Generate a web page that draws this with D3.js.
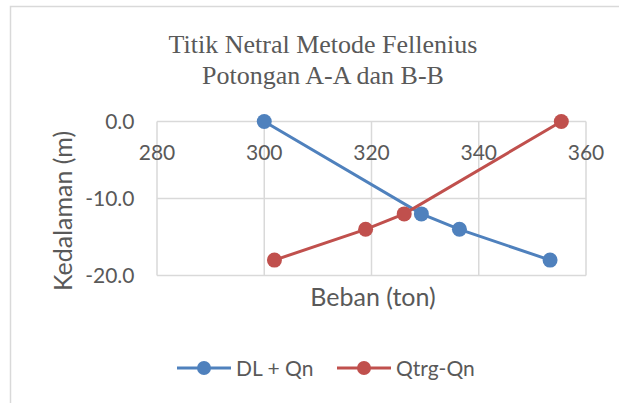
<!DOCTYPE html>
<html lang="en">
<head>
<meta charset="utf-8">
<title>Titik Netral Metode Fellenius</title>
<script src="https://d3js.org/d3.v7.min.js"></script>
<style>
  body { margin: 0; background: #fff; }
  text { fill: #595959; }
</style>
</head>
<body>
<div id="chart"></div>
<script>
// data
const xTicks = [280, 300, 320, 340, 360];
const yTicks = [0, -10, -20];

const dlQnBeban = [300, 329.3, 336.4, 353.3];
const dlQnDepth = [0, -12, -14, -18];

const qtrgBeban = [301.9, 318.9, 326.1, 355.4];
const qtrgDepth = [-18, -14, -12, 0];

const seriesNames = ["DL + Qn", "Qtrg-Qn"];
const seriesColors = ["#4f81bd", "#c0504d"];

const W = 619, H = 403;
const plot = {left: 157, right: 586, top: 121.5, bottom: 275.5};

const svg = d3.select("#chart")
  .append("svg")
    .attr("width", W)
    .attr("height", H);

// chart border (only top and left fall inside the frame)
svg.append("rect")
  .attr("x", 10.5).attr("y", 6.5)
  .attr("width", 640).attr("height", 420)
  .attr("fill", "none")
  .attr("stroke", "#d9d9d9")
  .attr("stroke-width", 1.5);

const x = d3.scaleLinear().domain([280, 360]).range([plot.left, plot.right]);
const y = d3.scaleLinear().domain([0, -20]).range([plot.top, plot.bottom]);

// gridlines
svg.append("g")
  .selectAll("line")
  .data(xTicks)
  .join("line")
    .attr("x1", d => x(d)).attr("x2", d => x(d))
    .attr("y1", plot.top).attr("y2", plot.bottom)
    .attr("stroke", "#d9d9d9").attr("stroke-width", 1.5);

svg.append("g")
  .selectAll("line")
  .data(yTicks)
  .join("line")
    .attr("x1", plot.left).attr("x2", plot.right)
    .attr("y1", d => y(d)).attr("y2", d => y(d))
    .attr("stroke", "#d9d9d9").attr("stroke-width", 1.5);

// tick labels
svg.append("g")
  .selectAll("text")
  .data(xTicks)
  .join("text")
    .attr("x", d => x(d))
    .attr("y", y(0) + 38.5)
    .attr("text-anchor", "middle")
    .style("font-family", "Lato, sans-serif")
    .style("font-size", "21px")
    .text(d => d);

svg.append("g")
  .selectAll("text")
  .data(yTicks)
  .join("text")
    .attr("x", 134.5)
    .attr("y", d => y(d) + 7.5)
    .attr("text-anchor", "end")
    .style("font-family", "Lato, sans-serif")
    .style("font-size", "21px")
    .text(d => d3.format(".1f")(d).replace("−", "-"));

// title
const title = svg.append("text")
  .attr("text-anchor", "middle")
  .style("font-family", "'Liberation Serif', 'Times New Roman', serif")
  .style("font-size", "26px");
title.append("tspan").attr("x", 323).attr("y", 52.5).text("Titik Netral Metode Fellenius");
title.append("tspan").attr("x", 323).attr("y", 83.5).text("Potongan A-A dan B-B");

// axis titles
svg.append("text")
  .attr("x", (plot.left + plot.right) / 2 + 1.5).attr("y", 306)
  .attr("text-anchor", "middle")
  .style("font-family", "Lato, sans-serif")
  .style("font-size", "25px")
  .text("Beban (ton)");

svg.append("text")
  .attr("transform", "translate(71.5,211) rotate(-90)")
  .attr("text-anchor", "middle")
  .style("font-family", "Lato, sans-serif")
  .style("font-size", "25px")
  .text("Kedalaman (m)");

// series
const series = [
  {name: seriesNames[0], color: seriesColors[0], pts: d3.zip(dlQnBeban, dlQnDepth)},
  {name: seriesNames[1], color: seriesColors[1], pts: d3.zip(qtrgBeban, qtrgDepth)}
];

const line = d3.line().x(d => x(d[0])).y(d => y(d[1]));

series.forEach(s => {
  svg.append("path")
    .datum(s.pts)
    .attr("d", line)
    .attr("fill", "none")
    .attr("stroke", s.color)
    .attr("stroke-width", 3);
  svg.append("g")
    .selectAll("circle")
    .data(s.pts)
    .join("circle")
      .attr("cx", d => x(d[0]))
      .attr("cy", d => y(d[1]))
      .attr("r", 7.5)
      .attr("fill", s.color);
});

// legend
const legendX = [177, 337];
const lg = svg.append("g")
  .selectAll("g")
  .data(series)
  .join("g")
    .attr("transform", (d, i) => `translate(${legendX[i]},368)`);
lg.append("line")
  .attr("x1", 0).attr("x2", 54)
  .attr("stroke", d => d.color)
  .attr("stroke-width", 3);
lg.append("circle")
  .attr("cx", 27).attr("r", 7)
  .attr("fill", d => d.color);
lg.append("text")
  .attr("x", 59).attr("y", 8)
  .style("font-family", "Lato, sans-serif")
  .style("font-size", "21px")
  .text(d => d.name);
</script>
</body>
</html>
